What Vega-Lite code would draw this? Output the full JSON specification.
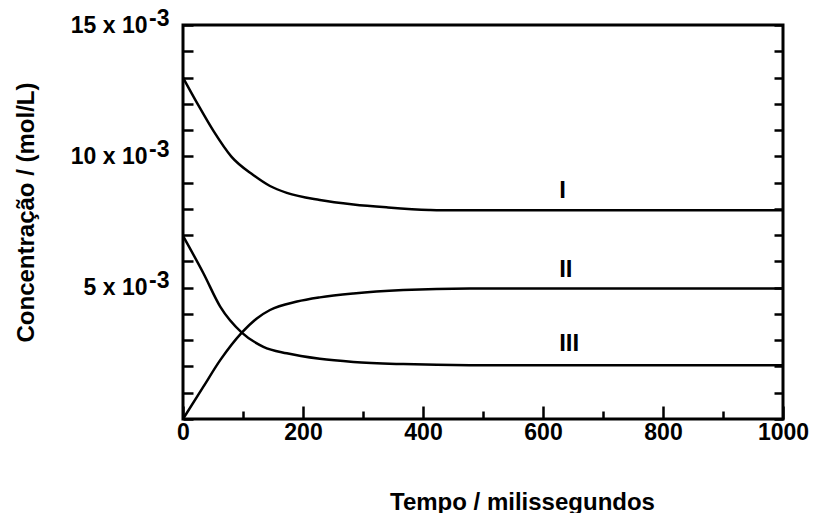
{
  "$schema": "https://vega.github.io/schema/vega-lite/v6.json",
  "width": 600,
  "height": 394,
  "autosize": {"type": "none"},
  "padding": {"left": 183, "top": 25, "right": 32, "bottom": 94},
  "background": "white",
  "config": {
    "view": {"stroke": "black", "strokeWidth": 3},
    "font": "Liberation Sans",
    "axis": {"grid": false, "domain": false, "tickColor": "black", "tickWidth": 2.5, "labelColor": "black", "titleColor": "black", "labelFont": "Liberation Sans", "titleFont": "Liberation Sans", "labelFontWeight": "bold", "titleFontWeight": "bold", "labelOverlap": false, "labelFlush": false}
  },
  "datasets": {
    "curves": [
      {"serie": "I", "t": 0, "c": 13.0},
      {"serie": "I", "t": 25, "c": 11.97},
      {"serie": "I", "t": 51, "c": 10.96},
      {"serie": "I", "t": 81, "c": 9.98},
      {"serie": "I", "t": 117, "c": 9.29},
      {"serie": "I", "t": 145, "c": 8.87},
      {"serie": "I", "t": 173, "c": 8.61},
      {"serie": "I", "t": 228, "c": 8.34},
      {"serie": "I", "t": 284, "c": 8.17},
      {"serie": "I", "t": 339, "c": 8.06},
      {"serie": "I", "t": 410, "c": 7.96},
      {"serie": "I", "t": 430, "c": 7.95},
      {"serie": "I", "t": 1000, "c": 7.95},
      {"serie": "II", "t": 0, "c": 0.0},
      {"serie": "II", "t": 34, "c": 1.23},
      {"serie": "II", "t": 62, "c": 2.24},
      {"serie": "II", "t": 98, "c": 3.29},
      {"serie": "II", "t": 123, "c": 3.83},
      {"serie": "II", "t": 145, "c": 4.15},
      {"serie": "II", "t": 190, "c": 4.47},
      {"serie": "II", "t": 228, "c": 4.63},
      {"serie": "II", "t": 284, "c": 4.78},
      {"serie": "II", "t": 367, "c": 4.91},
      {"serie": "II", "t": 478, "c": 4.97},
      {"serie": "II", "t": 1000, "c": 4.97},
      {"serie": "III", "t": 0, "c": 6.97},
      {"serie": "III", "t": 34, "c": 5.55},
      {"serie": "III", "t": 62, "c": 4.28},
      {"serie": "III", "t": 98, "c": 3.29},
      {"serie": "III", "t": 134, "c": 2.75},
      {"serie": "III", "t": 173, "c": 2.5},
      {"serie": "III", "t": 228, "c": 2.29},
      {"serie": "III", "t": 284, "c": 2.17},
      {"serie": "III", "t": 367, "c": 2.09},
      {"serie": "III", "t": 478, "c": 2.05},
      {"serie": "III", "t": 1000, "c": 2.05}
    ],
    "labels": [
      {"label": "I", "t": 627, "c": 8.43},
      {"label": "II", "t": 627, "c": 5.39},
      {"label": "III", "t": 627, "c": 2.57}
    ]
  },
  "layer": [
    {
      "data": {"name": "curves"},
      "mark": {"type": "line", "color": "black", "strokeWidth": 2.5, "interpolate": "monotone"},
      "encoding": {
        "x": {
          "field": "t", "type": "quantitative",
          "scale": {"domain": [0, 1000], "nice": false},
          "axis": {
            "orient": "bottom",
            "values": [0, 100, 200, 300, 400, 500, 600, 700, 800, 900, 1000],
            "format": "d",
            "labelExpr": "datum.value % 200 === 0 ? datum.label : ''",
            "tickSize": {"condition": {"test": "datum.value % 200 === 0", "value": -13}, "value": -8},
            "labelFontSize": 23,
            "labelPadding": 15,
            "title": "Tempo / milissegundos",
            "titleFontSize": 24,
            "titleX": 339,
            "titleY": 90,
            "titleAlign": "center",
            "titleBaseline": "alphabetic"
          }
        },
        "y": {
          "field": "c", "type": "quantitative",
          "scale": {"domain": [0, 15], "nice": false},
          "axis": {
            "orient": "left",
            "offset": 0,
            "values": [0, 1, 2, 3, 4, 5, 6, 7, 8, 9, 10, 11, 12, 13, 14, 15],
            "labelExpr": "datum.value == 5 ? '5 x 10' : datum.value == 10 ? '10 x 10' : datum.value == 15 ? '15 x 10' : ''",
            "tickSize": -10,
            "labelFontSize": 23,
            "labelPadding": 46,
            "labelBaseline": "middle",
            "title": "Concentração / (mol/L)",
            "titleFontSize": 24,
            "titleAngle": -90,
            "titleX": -150,
            "titleY": 187,
            "titleAlign": "center",
            "titleBaseline": "alphabetic"
          }
        },
        "detail": {"field": "serie"}
      }
    },
    {
      "data": {"name": "labels"},
      "mark": {"type": "text", "align": "left", "baseline": "alphabetic", "fontSize": 24, "fontWeight": "bold", "font": "Liberation Sans", "color": "black"},
      "encoding": {
        "x": {"field": "t", "type": "quantitative", "axis": null},
        "y": {
          "field": "c", "type": "quantitative",
          "axis": {
            "orient": "right",
            "offset": 0,
            "values": [0, 1, 2, 3, 4, 5, 6, 7, 8, 9, 10, 11, 12, 13, 14, 15],
            "tickSize": -9,
            "labels": false,
            "title": null
          }
        },
        "text": {"field": "label"}
      }
    },
    {
      "data": {"name": "labels"},
      "mark": {"type": "text", "opacity": 0, "fontSize": 24, "fontWeight": "bold", "font": "Liberation Sans"},
      "encoding": {
        "x": {"field": "t", "type": "quantitative", "axis": null},
        "y": {
          "field": "c", "type": "quantitative",
          "axis": {
            "orient": "left",
            "offset": 0,
            "values": [5, 10, 15],
            "labelExpr": "'-3'",
            "ticks": false,
            "labelFontSize": 23,
            "labelPadding": 14,
            "labelOffset": -7,
            "labelBaseline": "middle",
            "title": null
          }
        },
        "text": {"field": "label"}
      }
    }
  ],
  "resolve": {"axis": {"y": "independent", "x": "independent"}}
}
